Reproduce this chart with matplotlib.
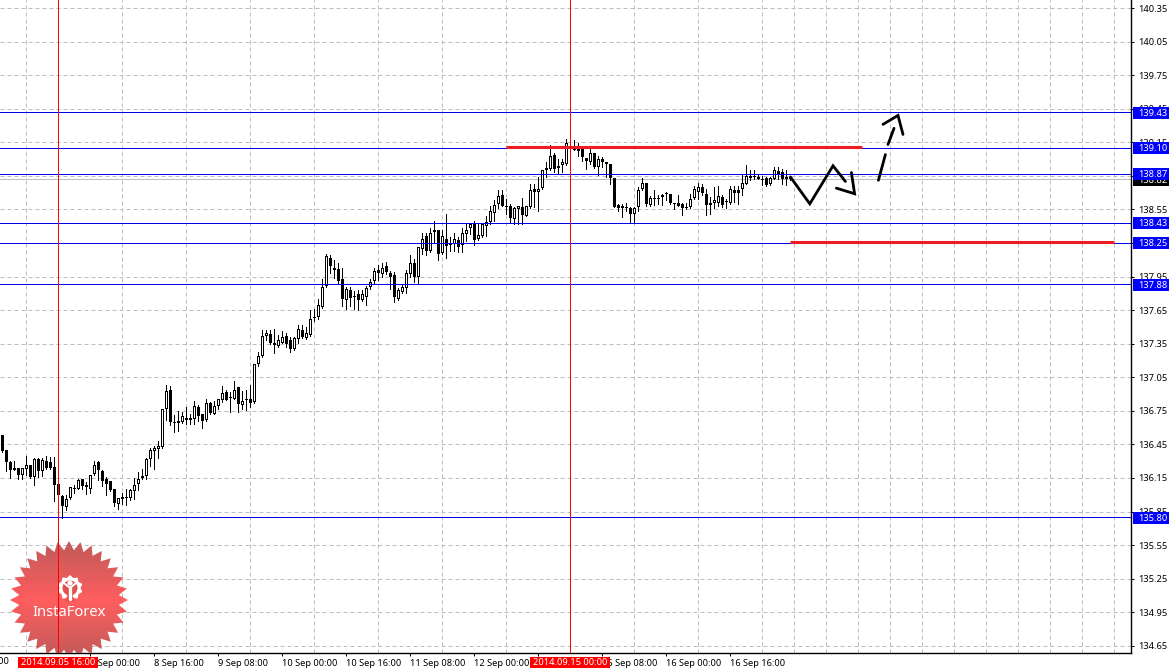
import numpy as np
import matplotlib
matplotlib.use("Agg")
import matplotlib.pyplot as plt
from matplotlib.patches import Polygon, Rectangle, Circle, Wedge
from matplotlib.transforms import IdentityTransform, blended_transform_factory

# hourly candles, 5 Sep - 16 Sep 2014
opens = [136.53,136.40,136.29,136.24,136.24,136.18,136.23,136.27,136.16,136.32,136.21,136.30,136.29,136.25,136.10,135.99,135.89,135.97,136.06,136.05,
136.14,136.07,136.05,136.19,136.29,136.21,136.14,136.12,136.05,135.92,135.98,135.98,135.97,136.03,136.10,136.17,136.17,136.32,136.39,136.41,
136.43,136.77,136.94,136.65,136.64,136.65,136.69,136.69,136.68,136.78,136.72,136.67,136.82,136.72,136.79,136.85,136.92,136.87,136.86,136.96,
136.80,136.85,136.86,136.83,137.17,137.24,137.42,137.44,137.36,137.33,137.36,137.42,137.38,137.30,137.39,137.47,137.40,137.43,137.59,137.59,
137.68,137.87,138.12,138.03,138.02,137.93,137.74,137.83,137.77,137.79,137.74,137.77,137.86,137.91,138.01,137.97,138.04,137.98,137.96,137.75,
137.81,137.85,137.97,138.07,137.95,138.20,138.31,138.18,138.37,138.37,138.16,138.29,138.24,138.24,138.28,138.23,138.33,138.38,138.42,138.29,
138.31,138.40,138.44,138.52,138.60,138.68,138.58,138.58,138.46,138.55,138.57,138.49,138.57,138.73,138.71,138.74,138.90,138.91,139.04,138.92,
138.95,138.96,139.09,139.11,139.09,139.09,139.01,138.97,139.05,138.93,139.00,138.97,138.96,138.83,138.59,138.56,138.57,138.56,138.51,138.57,
138.73,138.79,138.59,138.65,138.65,138.66,138.69,138.69,138.60,138.61,138.60,138.57,138.57,138.65,138.71,138.75,138.69,138.59,138.61,138.61,
138.66,138.62,138.61,138.72,138.72,138.73,138.78,138.83,138.84,138.84,138.82,138.83,138.78,138.82,138.89,138.88,138.84,138.84]
highs = [136.53,136.40,136.30,136.30,136.24,136.24,136.35,136.27,136.33,136.33,136.33,136.35,136.34,136.34,136.10,136.00,136.00,136.07,136.09,136.14,
136.14,136.11,136.18,136.30,136.30,136.22,136.16,136.12,136.05,135.97,136.02,136.05,136.05,136.15,136.20,136.23,136.33,136.42,136.44,136.48,
136.77,136.98,136.97,136.71,136.75,136.74,136.78,136.72,136.84,136.80,136.72,136.86,136.83,136.84,136.86,136.97,136.94,136.92,137.02,136.96,
136.93,136.94,136.98,137.17,137.28,137.47,137.47,137.47,137.48,137.43,137.46,137.45,137.41,137.41,137.52,137.52,137.50,137.65,137.66,137.75,
137.93,138.15,138.14,138.10,138.07,138.03,137.86,137.86,137.82,137.83,137.83,137.87,137.93,138.03,138.05,138.07,138.08,138.00,137.99,137.85,
137.88,138.01,138.14,138.11,138.21,138.34,138.34,138.38,138.45,138.37,138.37,138.51,138.30,138.34,138.30,138.38,138.42,138.42,138.45,138.42,
138.42,138.49,138.58,138.63,138.72,138.72,138.64,138.60,138.57,138.58,138.65,138.58,138.78,138.78,138.84,138.90,138.97,139.13,139.05,139.00,
139.00,139.18,139.12,139.17,139.14,139.09,139.01,139.09,139.05,139.03,139.02,138.97,138.96,138.83,138.60,138.60,138.61,138.57,138.57,138.75,
138.83,138.79,138.67,138.72,138.68,138.69,138.71,138.69,138.61,138.68,138.61,138.61,138.69,138.76,138.79,138.78,138.73,138.66,138.75,138.76,
138.68,138.64,138.76,138.76,138.76,138.87,138.95,138.90,138.90,138.87,138.85,138.84,138.84,138.93,138.93,138.91,138.90,138.85]
lows = [136.38,136.21,136.15,136.22,136.14,136.14,136.18,136.15,136.09,136.16,136.17,136.23,136.23,135.94,135.99,135.79,135.86,135.96,136.02,136.05,
136.05,136.01,136.02,136.18,136.13,136.08,136.00,136.03,135.90,135.87,135.92,135.91,135.95,135.96,136.04,136.14,136.14,136.26,136.23,136.33,
136.42,136.67,136.62,136.56,136.57,136.64,136.63,136.63,136.63,136.66,136.60,136.66,136.72,136.72,136.77,136.83,136.85,136.74,136.86,136.74,
136.77,136.76,136.78,136.82,137.15,137.23,137.38,137.35,137.27,137.32,137.36,137.32,137.28,137.29,137.36,137.40,137.39,137.42,137.55,137.57,
137.67,137.86,137.98,137.94,137.89,137.69,137.66,137.69,137.66,137.65,137.73,137.70,137.84,137.89,137.92,137.95,137.97,137.84,137.72,137.74,
137.80,137.80,137.95,137.90,137.88,138.15,138.14,138.17,138.25,138.10,138.15,138.12,138.18,138.18,138.17,138.17,138.27,138.33,138.23,138.28,
138.30,138.31,138.42,138.45,138.56,138.58,138.51,138.43,138.42,138.42,138.42,138.49,138.56,138.57,138.54,138.73,138.84,138.90,138.88,138.87,
138.88,138.95,138.96,139.08,139.03,138.98,138.91,138.96,138.92,138.86,138.93,138.84,138.78,138.57,138.54,138.48,138.54,138.44,138.44,138.54,
138.72,138.58,138.58,138.59,138.60,138.59,138.63,138.60,138.55,138.58,138.50,138.55,138.56,138.64,138.64,138.68,138.50,138.51,138.56,138.58,
138.57,138.56,138.60,138.62,138.60,138.68,138.78,138.81,138.82,138.82,138.77,138.76,138.77,138.82,138.82,138.78,138.77,138.81]
closes = [136.39,136.29,136.22,136.22,136.18,136.24,136.27,136.16,136.32,136.21,136.31,136.24,136.24,136.09,136.00,135.90,135.96,136.07,136.06,136.13,
136.08,136.09,136.18,136.27,136.22,136.12,136.10,136.04,135.93,135.97,135.96,135.97,136.04,136.09,136.14,136.15,136.32,136.40,136.42,136.44,
136.77,136.93,136.65,136.65,136.66,136.70,136.67,136.67,136.79,136.70,136.66,136.82,136.73,136.79,136.86,136.91,136.85,136.87,136.94,136.81,
136.84,136.85,136.82,137.17,137.24,137.42,137.45,137.36,137.34,137.38,137.41,137.35,137.30,137.40,137.48,137.41,137.45,137.57,137.58,137.70,
137.86,138.13,138.04,138.01,137.91,137.75,137.84,137.76,137.77,137.74,137.79,137.85,137.90,138.00,137.98,138.03,137.99,137.95,137.77,137.83,
137.86,137.98,138.07,137.95,138.21,138.29,138.18,138.34,138.35,138.15,138.31,138.22,138.24,138.29,138.21,138.34,138.37,138.42,138.28,138.32,
138.42,138.44,138.54,138.59,138.67,138.58,138.58,138.47,138.56,138.58,138.50,138.58,138.72,138.71,138.73,138.90,138.92,139.03,138.91,138.94,
138.97,139.14,139.11,139.08,139.07,139.02,138.98,139.05,138.93,139.00,138.97,138.96,138.83,138.57,138.56,138.58,138.57,138.51,138.56,138.72,
138.79,138.60,138.65,138.65,138.65,138.68,138.69,138.61,138.60,138.58,138.56,138.57,138.64,138.73,138.75,138.70,138.59,138.61,138.63,138.67,
138.59,138.62,138.73,138.70,138.70,138.79,138.85,138.85,138.84,138.82,138.82,138.77,138.83,138.90,138.86,138.82,138.82,138.82]

price_ticks = [140.35,140.05,139.75,139.45,139.15,138.85,138.55,138.25,137.95,137.65,137.35,137.05,136.75,136.45,136.15,135.85,135.55,135.25,134.95,134.65]
level_prices = [139.42,139.10,138.87,138.43,138.25,137.88,135.80]
level_labels = ['139.43','139.10','138.87','138.43','138.25','137.88','135.80']
last_price = 138.82
label_bars = [22,38,54,70,86,102,118,134,150,166,182]
label_texts = ['8 Sep 00:00','8 Sep 16:00','9 Sep 08:00','10 Sep 00:00','10 Sep 16:00','11 Sep 08:00','12 Sep 00:00','12 Sep 16:00','15 Sep 08:00','16 Sep 00:00','16 Sep 16:00']
offscreen_label = (-10.75, '4 Sep 16:00')
marked_bars = [14, 142]
marked_texts = ['2014.09.05 16:00', '2014.09.15 00:00']
resistance = (125.9, 214.9, 139.105)
support = (197.0, 277.9, 138.255)
zig_x = [197.05,201.9,207.7,210.8]
zig_y = [138.84,138.60,138.94,138.80]
zig_head_x = [212.3,213.1,208.55]
zig_head_y = [138.88,138.69,138.74]
dash_a_x = [219.05,220.8]
dash_a_y = [138.81,139.04]
dash_b_x = [221.45,222.95]
dash_b_y = [139.13,139.275]
dash_head_x = [220.2,223.95,225.2]
dash_head_y = [139.31,139.39,139.22]

W, H = 1173, 671
PX = 0.72
FS = 6.7
plt.rcParams['font.family'] = ['Noto Sans', 'DejaVu Sans']
fig = plt.figure(figsize=(W/100, H/100), dpi=100, facecolor='white')
ax = fig.add_axes([0, (H-653)/H, 1131/W, 653/H], facecolor='white')
for s in ('top','left'):
    ax.spines[s].set_visible(False)
for s in ('right','bottom'):
    ax.spines[s].set_linewidth(1.0)
ax.set_axisbelow(True)

ax.yaxis.tick_right()
ax.set_yticks(price_ticks)
ax.set_yticklabels([f'{p:.2f}' for p in price_ticks])
ax.tick_params(axis='y', length=2.5, width=PX, pad=2.5, labelsize=FS, direction='out', right=True, left=False)
ax.set_xticks(label_bars)
ax.set_xticklabels(label_texts, ha='left')
ax.tick_params(axis='x', which='major', length=2.5, width=PX, pad=1.5, labelsize=FS)
ax.set_xticks(np.arange(-10, 282, 8), minor=True)
ax.tick_params(axis='x', which='minor', length=0)
ax.set_xlim((0-2.2)/4, (1131-2.2)/4)
ax.set_ylim(140.35-(653-8.0)/111.9, 140.35+8.0/111.9)
gdash = (0, (4, 3))
ax.grid(True, axis='y', color='#BDBDBD', lw=PX, ls=gdash)
ax.grid(True, axis='x', which='minor', color='#BDBDBD', lw=PX, ls=gdash)
ax.grid(False, axis='x', which='major')

# candles
o, h, l, c = map(np.array, (opens, highs, lows, closes))
x = np.arange(len(o))
ax.vlines(x, l, h, color='black', lw=PX, zorder=2, antialiased=False)
one_px = 1/111.9
top, bot = np.maximum(o, c), np.minimum(o, c)
body = np.maximum(top-bot, one_px)
mid = (top+bot)/2
ax.bar(x, body, bottom=mid-body/2, width=0.75, facecolor='black', edgecolor='none', lw=0, zorder=2.2, antialiased=False)
hollow = (c > o) & (top-bot > 2*one_px)
ax.bar(x[hollow], (top-bot)[hollow]-2*one_px, bottom=bot[hollow]+one_px, width=0.25, facecolor='white', edgecolor='none', lw=0, zorder=2.3, antialiased=False)

# horizontal levels
ax.axhline(last_price, color='#BDBDBD', lw=PX, zorder=1.8)
for p in level_prices:
    ax.axhline(p, color='#0000E6', lw=PX, zorder=3)
for b in marked_bars:
    ax.axvline(b, color='#FF0000', lw=PX, zorder=3.6)
for (a, b, p) in (resistance, support):
    ax.plot([a, b], [p, p], color='#ED1C24', lw=2.2, solid_capstyle='butt', zorder=3.4)

# hand drawn arrows
akw = dict(color='black', lw=2.0, solid_capstyle='round', solid_joinstyle='miter', zorder=3.5)
for xs, ys in ((zig_x, zig_y), (zig_head_x, zig_head_y), (dash_a_x, dash_a_y), (dash_b_x, dash_b_y), (dash_head_x, dash_head_y)):
    ax.plot(xs, ys, **akw)

# price tags
ident = IdentityTransform()
def ydisp(p):
    return ax.transData.transform((0, p))[1]
fig.canvas.draw()
def ytag(p, txt, fc, z):
    yd = ydisp(p)
    ax.add_patch(Rectangle((1133, yd-6.5), 36, 12, transform=ident, facecolor=fc, edgecolor='none', clip_on=False, zorder=z))
    ax.text(1138, yd-1, txt, transform=ident, color='white', fontsize=FS, va='center', ha='left', clip_on=False, zorder=z+0.1)
ytag(last_price, f'{last_price:.2f}', 'black', 6)
for p, t in zip(level_prices, level_labels):
    ytag(p, t, '#0000FF', 7)

# first x label runs off the left edge
bt = blended_transform_factory(ax.transData, ident)
ax.text(offscreen_label[0], H-657, offscreen_label[1], transform=bt, fontsize=FS, va='top', ha='left', clip_on=False, zorder=6)

# date tags for the vertical lines
for b, t in zip(marked_bars, marked_texts):
    xd = ax.transData.transform((b, 0))[0]
    ax.add_patch(Rectangle((xd-40, H-668), 80, 11.5, transform=ident, facecolor='#FF0000', edgecolor='none', clip_on=False, zorder=8))
    ax.text(xd, H-662.5, t, transform=ident, color='white', fontsize=FS, ha='center', va='center', clip_on=False, zorder=8.1)

# InstaForex badge
cx, cy, R, r = 69, H-600, 59, 50
n = 32
ang = np.linspace(0, 2*np.pi, 2*n, endpoint=False) + np.pi/2
rad = np.where(np.arange(2*n) % 2 == 0, R, r)
star = Polygon(np.c_[cx+rad*np.cos(ang), cy+rad*np.sin(ang)], closed=True, transform=ident, facecolor='none', edgecolor='none')
ax.add_patch(star)
grad = np.concatenate([np.linspace(0, 1, 60), np.linspace(1, 0, 60)])[:, None]
rgba = np.zeros((120, 1, 4))
rgba[..., 0] = 0.74 + 0.26*grad
rgba[..., 1] = 0.30 + 0.02*grad
rgba[..., 2] = 0.30 + 0.02*grad
rgba[..., 3] = 0.93
inv = ax.transData.inverted()
(x0, y0), (x1, y1) = inv.transform((cx-R, cy-R)), inv.transform((cx+R, cy+R))
xl, yl = ax.get_xlim(), ax.get_ylim()
im = ax.imshow(rgba, extent=(x0, x1, y0, y1), aspect='auto', interpolation='bilinear', zorder=3.3)
im.set_clip_path(star)
ax.set_xlim(xl); ax.set_ylim(yl)

gx, gy = 70, H-588
tk = np.linspace(0, 2*np.pi, 20, endpoint=False) + np.pi/2
trad = np.where(np.arange(20) % 2 == 0, 13, 10.5)
ax.add_patch(Polygon(np.c_[gx+trad*np.cos(tk), gy+trad*np.sin(tk)], transform=ident, facecolor='white', edgecolor='none', zorder=3.31))
ax.add_patch(Circle((gx, gy), 7.5, transform=ident, facecolor='#E25050', edgecolor='none', zorder=3.32))
ax.add_patch(Wedge((gx, gy), 14, 250, 290, transform=ident, facecolor='#EE5050', edgecolor='none', zorder=3.32))
ax.add_patch(Circle((gx, gy+5), 2.6, transform=ident, facecolor='white', edgecolor='none', zorder=3.33))
ax.plot([gx, gx], [gy-11, gy+1], transform=ident, color='white', lw=2.4, solid_capstyle='round', zorder=3.33)
ax.plot([gx-6, gx, gx+6], [gy+5, gy, gy+5], transform=ident, color='white', lw=1.4, zorder=3.33)
ax.text(69.5, H-613, 'InstaForex', transform=ident, color='white', fontsize=10.6, ha='center', va='center', zorder=3.34)

fig.savefig('out.png', dpi=100)
